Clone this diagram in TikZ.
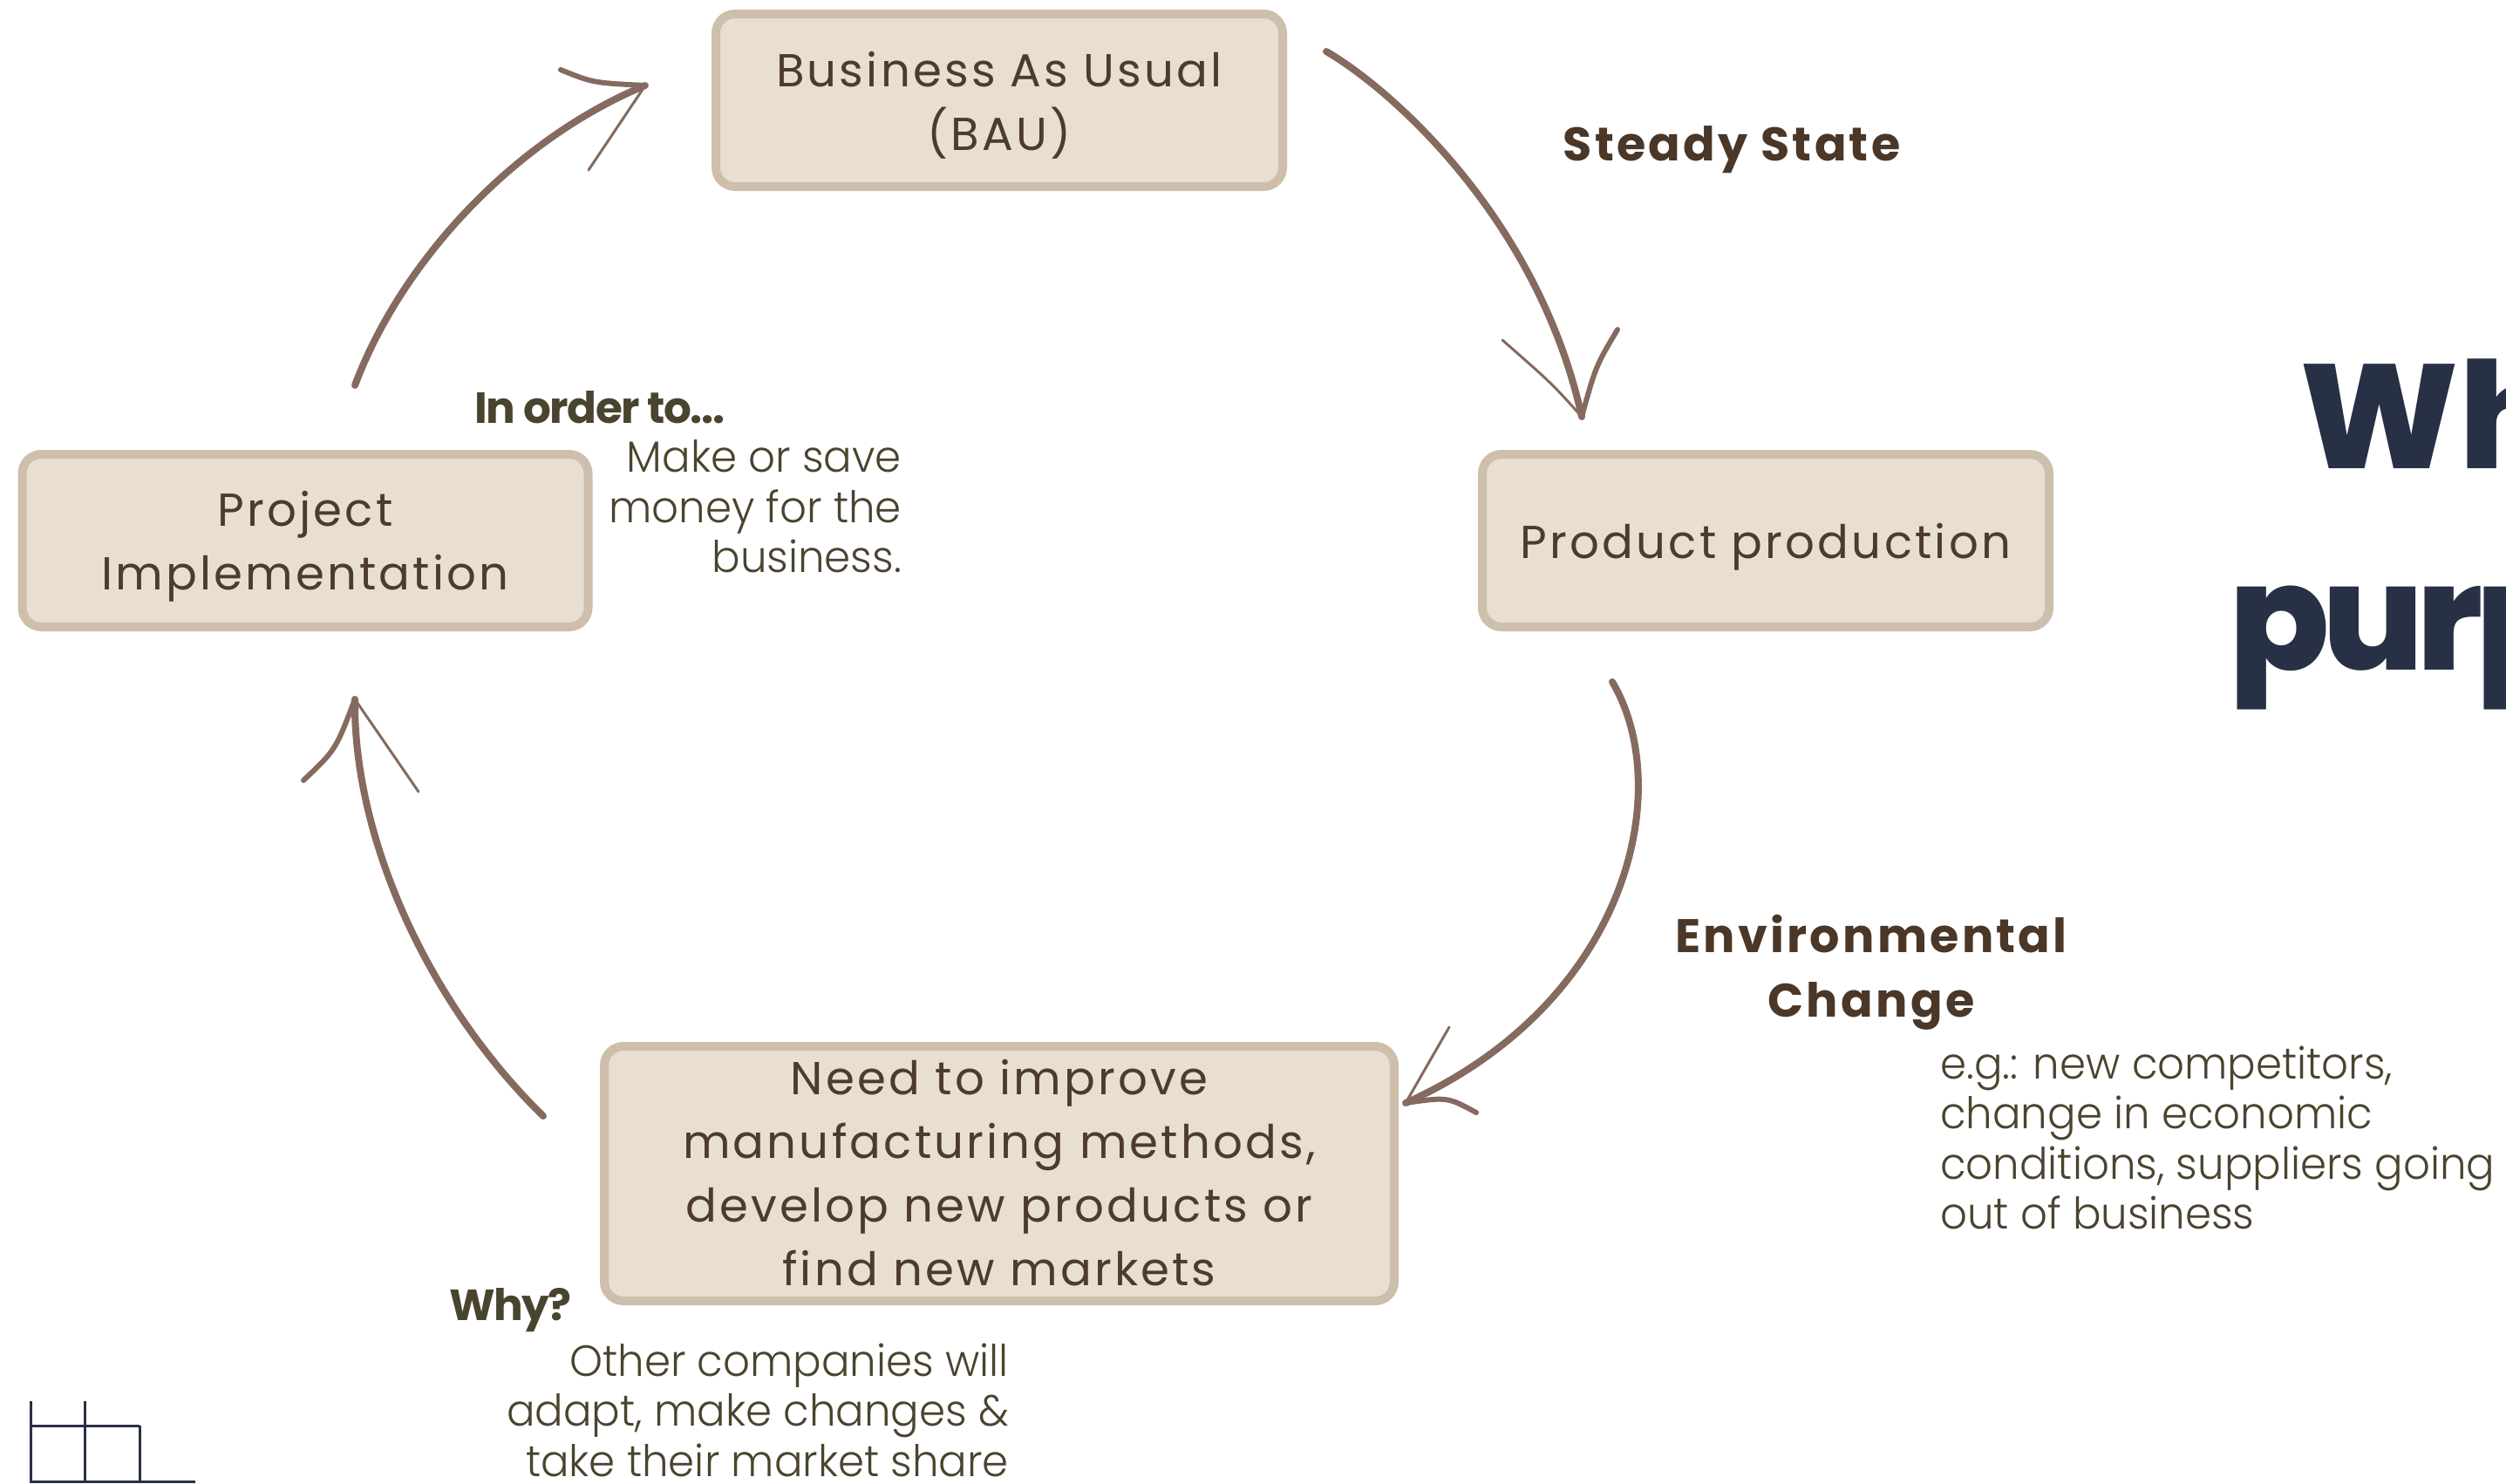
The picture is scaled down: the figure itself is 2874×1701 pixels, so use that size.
\documentclass[tikz,border=0pt]{standalone}
\usepackage{fontspec}
\setmainfont{Poppins}
\newfontfamily\boxfont[LetterSpace=6]{Poppins}
\newfontfamily\labelfont[LetterSpace=6]{Poppins Bold}
\newfontfamily\olivebold[LetterSpace=-3]{Poppins Bold}
\newfontfamily\lightfont[FakeStretch=0.965]{Poppins Light}
\newfontfamily\titlefont{Poppins ExtraBold}
\newfontfamily\titlefonttight[LetterSpace=-5]{Poppins ExtraBold}
\definecolor{boxfill}{HTML}{E8DFD1}
\definecolor{boxline}{HTML}{CDBFAB}
\definecolor{boxtext}{HTML}{4D3B2D}
\definecolor{arrowc}{HTML}{856A5F}
\definecolor{labelc}{HTML}{4A3727}
\definecolor{olive}{HTML}{4A432E}
\definecolor{navy}{HTML}{283046}
\newcommand{\boxlines}[2]{\raisebox{#1}[\height][\depth]{\begin{tabular}{@{}c@{}}#2\end{tabular}}}
\begin{document}
\begin{tikzpicture}[x=1pt,y=-1pt,
  cbox/.style={draw=boxline, fill=boxfill, line width=10pt, rounded corners=22pt,
    align=center, text=boxtext, inner sep=0pt,
    font=\boxfont\fontsize{53}{73}\selectfont},
  steplabel/.style={align=center, text=labelc, inner sep=0pt,
    font=\labelfont\fontsize{54}{74}\selectfont},
  olivehead/.style={text=olive, inner sep=0pt, anchor=west,
    font=\olivebold\fontsize{50}{58}\selectfont},
  note/.style={text=olive, inner sep=0pt,
    font=\lightfont\fontsize{50}{57.5}\selectfont},
  arrowline/.style={draw=arrowc, line width=8pt, line cap=round},
  barbthick/.style={draw=arrowc, line width=6pt, line cap=round},
  barbthin/.style={draw=arrowc, line width=3pt, line cap=round},
  gridline/.style={draw=navy, line width=3pt}]
\useasboundingbox (0,0) rectangle (2874,1701);
\fill[white] (0,0) rectangle (2874,1701);

% boxes
\node[cbox, minimum width=650pt, minimum height=198pt] (bau) at (1146,115) {\boxlines{-6pt}{Business As Usual\\(BAU)}};
\node[cbox, minimum width=650pt, minimum height=198pt] (prod) at (2025,620) {\boxlines{-6pt}{Product production}};
\node[cbox, minimum width=649pt, minimum height=198pt] (proj) at (350,620) {\boxlines{-5pt}{Project\\Implementation}};
\node[cbox, minimum width=906pt, minimum height=281pt] (need) at (1146,1346) {\boxlines{-4pt}{Need to improve\\manufacturing methods,\\develop new products or\\find new markets}};

% labels
\node[steplabel] (steady) at (1986,172) {Steady State};
\node[steplabel] (env) at (2146,1115) {Environmental\\Change};
\node[olivehead] (inorder) at (544,467) {In order to...};
\node[note, align=right, anchor=east] (money) at (1034,581) {Make or save\\money for the\\business.};
\node[note, align=left, anchor=west] (eg) at (2225,1305) {e.g.: new competitors,\\change in economic\\conditions, suppliers going\\out of business};
\node[olivehead] (why) at (515,1503) {Why?};
\node[note, align=right, anchor=east] (other) at (1157,1617) {Other companies will\\adapt, make changes \&\\take their market share};

% title (cut off at right edge)
\node[text=navy, inner sep=0pt, anchor=base west, font=\titlefont\fontsize{170}{200}\selectfont] (t1) at (2637,537) {Wh};
\node[text=navy, inner sep=0pt, anchor=base west, font=\titlefonttight\fontsize{170}{200}\selectfont] (t2) at (2556,768) {purp};

% arrow coordinates
\coordinate (a1s) at (407,442);
\coordinate (a1e) at (740,98);
\coordinate (a2s) at (1521,59);
\coordinate (a2e) at (1814,478);
\coordinate (a3s) at (1849,782);
\coordinate (a3e) at (1612,1265);
\coordinate (a4s) at (623,1280);
\coordinate (a4e) at (407,802);

% arrow 1: project -> BAU
\draw[arrowline] (a1s) .. controls (460,300) and (590,160) .. (a1e);
\draw[barbthick] (643,80) .. controls (680,95) .. (a1e);
\draw[barbthin] (a1e) -- (675,195);
% arrow 2: BAU -> product
\draw[arrowline] (a2s) .. controls (1600,105) and (1765,255) .. (a2e);
\draw[barbthin] (1723,390) .. controls (1780,440) .. (a2e);
\draw[barbthick] (a2e) .. controls (1830,420) .. (1855,378);
% arrow 3: product -> need
\draw[arrowline] (a3s) .. controls (1922,905) and (1868,1150) .. (a3e);
\draw[barbthin] (1662,1178) -- (a3e);
\draw[barbthick] (a3e) .. controls (1660,1258) .. (1693,1276);
% arrow 4: need -> project
\draw[arrowline] (a4s) .. controls (490,1150) and (405,960) .. (a4e);
\draw[barbthick] (348,895) .. controls (385,860) .. (a4e);
\draw[barbthin] (a4e) -- (480,908);

% grid decoration
\draw[gridline] (35,1607) -- (35,1701);
\draw[gridline] (97,1607) -- (97,1701);
\draw[gridline] (160,1635) -- (160,1701);
\draw[gridline] (35,1635) -- (160,1635);
\draw[gridline] (35,1699) -- (224,1699);
\end{tikzpicture}
\end{document}
